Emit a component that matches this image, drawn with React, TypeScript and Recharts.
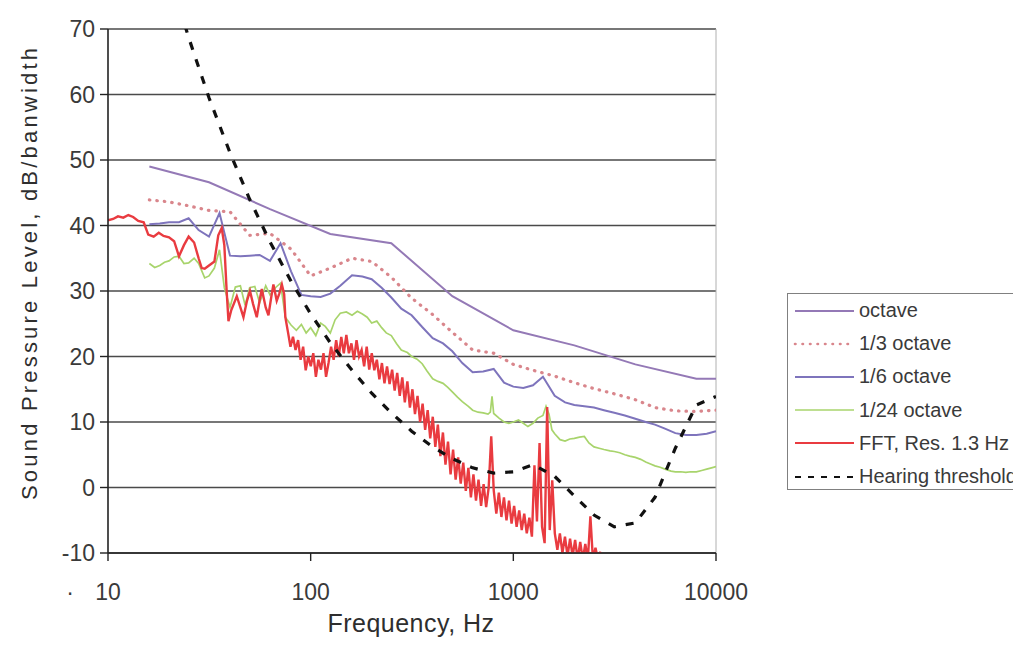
import React from 'react';
import { LineChart, Line, XAxis, YAxis, CartesianGrid, ReferenceLine, Label } from 'recharts';

const FONT = '"Liberation Sans", Arial, sans-serif';

const X_TICKS = [10, 100, 1000, 10000];
const Y_TICKS = [-10, 0, 10, 20, 30, 40, 50, 60, 70];

const F_OCT = [16, 31.5, 63, 125, 250, 500, 1000, 2000, 4000, 8000, 10000];
const OCTAVE = [49.0, 46.6, 42.5, 38.7, 37.3, 29.2, 24.0, 21.7, 18.8, 16.6, 16.6];

const F_THIRD = [16, 20, 25, 31.5, 40, 50, 63, 80, 100, 125, 160, 200, 250, 315, 400, 500, 630, 800, 1000, 1250, 1600, 2000, 2500, 3150, 4000, 5000, 6300, 8000, 10000];
const THIRD = [43.9, 43.6, 43.0, 42.3, 42.1, 38.5, 38.8, 36.4, 32.3, 33.5, 35.0, 34.5, 32.1, 28.9, 26.4, 23.7, 21.0, 20.5, 18.8, 17.9, 17.0, 16.0, 15.1, 14.3, 13.4, 12.2, 11.7, 11.6, 11.8];

const F_SIXTH = [16, 18, 20, 22.4, 25, 28, 31.5, 35.5, 40, 45, 50, 56, 63, 71, 80, 90, 100, 112, 125, 140, 160, 180, 200, 224, 250, 280, 315, 355, 400, 450, 500, 560, 630, 710, 800, 900, 1000, 1120, 1250, 1400, 1600, 1800, 2000, 2240, 2500, 2800, 3150, 3550, 4000, 4500, 5000, 5600, 6300, 7100, 8000, 9000, 10000];
const SIXTH = [40.2, 40.3, 40.5, 40.5, 41.1, 39.3, 38.3, 41.9, 35.4, 35.3, 35.4, 35.5, 34.6, 37.3, 33.0, 29.4, 29.2, 29.1, 29.6, 30.8, 32.4, 32.2, 31.8, 30.5, 29.0, 27.3, 26.3, 24.5, 22.8, 22.0, 20.8, 19.0, 17.6, 17.7, 18.1, 16.0, 15.4, 15.2, 15.6, 16.9, 14.0, 13.0, 12.6, 12.4, 12.2, 11.8, 11.4, 11.0, 10.5, 10.0, 9.6, 9.0, 8.3, 8.0, 8.0, 8.2, 8.6];

const F_24 = [
  16, 17, 18, 19, 20, 21.2, 22.4, 23.7, 25, 26.6,
  28, 30, 31.5, 33.5, 35.5, 37.5, 40, 42.5, 45, 47.5,
  50, 53, 56, 60, 63, 67, 71, 75, 80, 85,
  90, 95, 100, 106, 112, 118, 125, 132, 140, 150,
  160, 170, 180, 190, 200, 212, 224, 236, 250, 265,
  280, 300, 315, 335, 355, 375, 400, 425, 450, 475,
  500, 530, 560, 600, 630, 670, 710, 750, 770, 785,
  800, 850, 900, 950, 1000, 1060, 1120, 1180, 1250, 1320,
  1400, 1450, 1500, 1550, 1600, 1700, 1800, 1900, 2000, 2120,
  2240, 2360, 2500, 2650, 2800, 3000, 3150, 3350, 3550, 3750,
  4000, 4250, 4500, 4750, 5000, 5300, 5600, 6000, 6300, 6700,
  7100, 7500, 8000, 8500, 9000, 9500, 10000,
];
const OCT24 = [
  34.2, 33.6, 33.9, 34.4, 34.6, 35.2, 35.3, 34.2, 34.3, 35.0,
  34.2, 32.0, 32.3, 33.5, 36.3, 30.5, 27.5, 30.6, 30.8, 27.8,
  30.5, 30.7, 28.2, 30.8, 29.4, 30.5, 31.2, 26.0, 24.8, 24.0,
  24.9, 23.6, 24.4, 23.2, 25.1, 24.6, 23.6, 25.6, 26.6, 26.8,
  26.3, 26.9, 26.5, 26.0, 25.1, 25.4, 24.4, 23.6, 23.2, 22.0,
  21.0, 20.6, 20.0, 19.6, 18.9, 17.8, 16.6, 16.2, 15.9, 15.3,
  14.6, 13.8, 13.1, 12.4, 11.8, 11.5, 11.4, 11.2, 11.5, 13.9,
  11.3, 10.6, 10.0, 9.8, 10.0, 10.3, 9.8, 9.3, 9.8, 10.6,
  11.0, 12.4, 11.2, 8.8, 8.2, 7.3, 7.1, 7.4, 7.5, 7.7,
  7.8, 6.8, 6.2, 6.0, 5.8, 5.6, 5.5, 5.3, 5.0, 4.8,
  4.6, 4.3, 3.9, 3.6, 3.3, 3.1, 2.8, 2.5, 2.4, 2.4,
  2.3, 2.4, 2.4, 2.6, 2.8, 3.0, 3.2,
];

const F_FFT = [
  10, 10.6, 11.2, 11.9, 12.6, 13.3, 14.1, 15.0, 15.8, 16.8,
  17.8, 18.8, 20, 21.2, 22.4, 23.7, 25, 26.6, 28, 29,
  30, 31.5, 33.5, 35, 36.4, 37.5, 38.5, 39.3, 40.5, 43.2,
  45, 46.6, 48.5, 50.2, 52, 54.2, 56, 57.4, 60, 61.9,
  64, 65.5, 68, 70, 72.1, 74,
  75, 77.2, 79.5, 81.8, 84.2, 86.7, 89.2, 91.8, 94.5, 97.3,
  100.1, 103.0, 106.1, 109.2, 112.4, 115.7, 119.1, 122.5, 126.1, 129.8,
  133.6, 137.6, 141.6, 145.7, 150.0, 154.4, 158.9, 163.6, 168.4, 173.3,
  178.4, 183.6, 189.0, 194.5, 200.2, 206.1, 212.1, 218.3, 224.7, 231.3,
  238.1, 245.1, 252.3, 259.7, 267.3, 275.1, 283.2, 291.5, 300.0, 308.8,
  317.8, 327.1, 336.7, 346.6, 356.7, 367.2, 377.9, 389.0, 400.4, 412.1,
  424.2, 436.6, 449.4, 462.6, 476.1, 490.1, 504.4, 519.2, 534.4, 550.1,
  566.2, 582.8, 599.9, 617.4, 635.5, 654.2, 673.3, 693.1, 713.4, 734.3,
  755.8, 777.9, 800.7, 824.2, 848.4, 873.2, 898.8, 925.2, 952.3, 980.2,
  1009, 1038, 1069, 1100, 1132, 1165, 1200, 1235, 1271, 1308,
  1347, 1386, 1427, 1469, 1512, 1556, 1602, 1649, 1697, 1747,
  1798, 1851, 1905, 1961, 2018, 2077, 2138, 2201, 2265, 2332,
  2400, 2470, 2543, 2617, 2694,
];
const FFT_DB = [
  40.8, 41.0, 41.4, 41.2, 41.6, 41.3, 40.7, 40.5, 38.6, 38.3,
  38.9, 38.4, 38.2, 37.6, 35.3, 37.0, 38.3, 37.4, 35.0, 33.5,
  33.4, 33.9, 34.5, 38.5, 39.6, 37.0, 30.0, 25.4, 27.0, 29.2,
  27.5, 26.0, 28.5, 30.0, 28.0, 26.0, 28.6, 30.3, 27.5, 26.3,
  29.2, 31.0, 28.5, 29.6, 31.0, 29.5,
  26.0, 23.8, 21.5, 23.0, 21.0, 22.5, 19.5, 21.5, 17.9, 20.0,
  18.5, 20.5, 16.9, 19.5, 18.0, 20.5, 16.9, 19.0, 21.5, 19.5,
  22.5, 20.0, 23.0, 20.5, 23.3, 20.5, 22.0, 19.5, 22.5, 20.0,
  21.0, 18.5, 21.5, 18.0, 20.5, 17.9, 19.5, 16.5, 19.0, 15.9,
  18.5, 15.8, 18.0, 14.8, 17.5, 14.0, 16.8, 13.0, 16.2, 12.2,
  15.0, 11.2, 14.0, 10.0, 12.8, 8.8, 11.8, 7.5, 10.8, 6.2,
  9.6, 4.8, 8.4, 3.5, 7.0, 2.0, 5.8, 1.2, 4.6, 0.6,
  3.8, -0.5, 3.0, -1.5, 2.0, -2.0, 1.2, -2.8, 0.5, -3.0,
  0.0, 7.8, -0.5, -4.0, -0.8, -4.5, -1.5, -5.0, -2.0, -5.5,
  -2.8, -6.0, -3.5, -6.5, -4.0, -7.0, -4.6, -7.5, 3.4, -5.2,
  6.8, -6.0, -8.5, 12.3, -6.5, 1.1, -7.0, -9.5, -7.0, -10.0,
  -7.5, -10.5, -7.8, -10.5, -8.0, -11.0, -8.3, -11.0, -8.6, -11.0,
  -4.4, -11.0, -9.2, -11.0, -9.8,
];

const F_THRESH = [20, 25, 31.5, 40, 50, 63, 80, 100, 125, 160, 200, 250, 315, 400, 500, 630, 800, 1000, 1250, 1600, 2000, 2500, 3150, 4000, 5000, 6300, 8000, 10000];
const THRESH = [78.5, 68.7, 59.5, 51.1, 44.0, 37.5, 31.5, 26.5, 22.1, 17.9, 14.4, 11.4, 8.6, 6.2, 4.4, 3.0, 2.2, 2.4, 3.5, 1.7, -1.3, -4.2, -6.0, -5.4, -1.5, 6.0, 12.6, 13.9];

const zip = (fs: number[], vs: number[]) => fs.map((f, i) => ({ f, v: vs[i] }));

type S = { name: string; data: { f: number; v: number }[]; color: string; width: number; dash?: string; cap?: 'round' | 'butt' };

const SERIES: S[] = [
  { name: 'octave', data: zip(F_OCT, OCTAVE), color: '#9479b6', width: 2 },
  { name: '1/3 octave', data: zip(F_THIRD, THIRD), color: '#d9868c', width: 3.2, dash: '0.5 7', cap: 'round' },
  { name: '1/6 octave', data: zip(F_SIXTH, SIXTH), color: '#7e74bc', width: 2 },
  { name: '1/24 octave', data: zip(F_24, OCT24), color: '#a8d46c', width: 1.7 },
  { name: 'FFT, Res. 1.3 Hz', data: zip(F_FFT, FFT_DB), color: '#e93b40', width: 2.4 },
  { name: 'Hearing threshold', data: zip(F_THRESH, THRESH), color: '#111111', width: 3.2, dash: '8 10' },
];

const XTick = (props: any) => {
  const { x, y, payload } = props;
  return (
    <g>
      <text x={x} y={y + 39} textAnchor="middle" fontSize={23} fill="#3a3a3a" fontFamily={FONT}>
        {payload.value}
      </text>
      {payload.value === 10 ? (
        <text x={x - 38} y={y + 39} textAnchor="middle" fontSize={23} fill="#3a3a3a" fontFamily={FONT}>
          ·
        </text>
      ) : null}
    </g>
  );
};

const YTick = (props: any) => {
  const { x, y, payload } = props;
  return (
    <text x={x - 5} y={y} dy="0.36em" textAnchor="end" fontSize={23} fill="#3a3a3a" fontFamily={FONT}>
      {payload.value}
    </text>
  );
};

const Legendbox = () => (
  <div
    style={{
      position: 'absolute',
      left: 787,
      top: 293,
      width: 270,
      height: 197,
      border: '1px solid #808080',
      background: '#fff',
      fontFamily: FONT,
      fontSize: 20,
      color: '#3a3a3a',
      boxSizing: 'border-box',
    }}
  >
    {SERIES.map((s) => (
      <div key={s.name} style={{ height: 33.2, display: 'flex', alignItems: 'center', whiteSpace: 'nowrap' }}>
        <svg width={66} height={12} style={{ marginLeft: 5, flex: 'none' }}>
          <line
            x1={2}
            y1={6}
            x2={61}
            y2={6}
            stroke={s.color}
            strokeWidth={s.name === '1/3 octave' ? 2.6 : Math.min(s.width, 2)}
            strokeLinecap={s.cap || 'butt'}
            strokeDasharray={s.dash ? (s.name === 'Hearing threshold' ? '6 7' : s.dash) : undefined}
          />
        </svg>
        <span>{s.name}</span>
      </div>
    ))}
  </div>
);

export default function App() {
  return (
    <div style={{ position: 'absolute', left: 0, top: 0, width: 1013, height: 646, overflow: 'hidden', background: '#fff' }}>
      <LineChart width={1013} height={646} margin={{ top: 29, right: 297, bottom: 33, left: 48 }}>
        <CartesianGrid vertical={false} stroke="#4a4a4a" strokeWidth={1.5} />
        <XAxis
          dataKey="f"
          type="number"
          scale="log"
          domain={[10, 10000]}
          ticks={X_TICKS}
          allowDataOverflow
          height={60}
          tickSize={8}
          tickMargin={0}
          tick={<XTick />}
          axisLine={{ stroke: '#222', strokeWidth: 1.6 }}
          tickLine={{ stroke: '#222', strokeWidth: 1.4 }}
        >
          <Label
            content={() => (
              <text x={411} y={632} textAnchor="middle" fontSize={25} letterSpacing={0.5} fill="#2e2e2e" fontFamily={FONT}>
                Frequency, Hz
              </text>
            )}
          />
        </XAxis>
        <YAxis
          type="number"
          domain={[-10, 70]}
          ticks={Y_TICKS}
          allowDataOverflow
          width={60}
          tickSize={8}
          tickMargin={0}
          tick={<YTick />}
          axisLine={{ stroke: '#222', strokeWidth: 1.6 }}
          tickLine={{ stroke: '#222', strokeWidth: 1.4 }}
        >
          <Label
            content={() => (
              <text
                transform="translate(29,274) rotate(-90)"
                textAnchor="middle"
                dominantBaseline="central"
                fontSize={22}
                textLength={452}
                lengthAdjust="spacing"
                fill="#2e2e2e"
                fontFamily={FONT}
              >
                Sound Pressure Level, dB/banwidth
              </text>
            )}
          />
        </YAxis>
        <ReferenceLine x={10000} stroke="#b0b0b0" strokeWidth={1} />
        {SERIES.map((s) => (
          <Line
            key={s.name}
            data={s.data}
            dataKey="v"
            name={s.name}
            type="linear"
            stroke={s.color}
            strokeWidth={s.width}
            strokeDasharray={s.dash}
            strokeLinecap={s.cap || 'butt'}
            dot={false}
            activeDot={false}
            isAnimationActive={false}
          />
        ))}
      </LineChart>
      <Legendbox />
    </div>
  );
}
